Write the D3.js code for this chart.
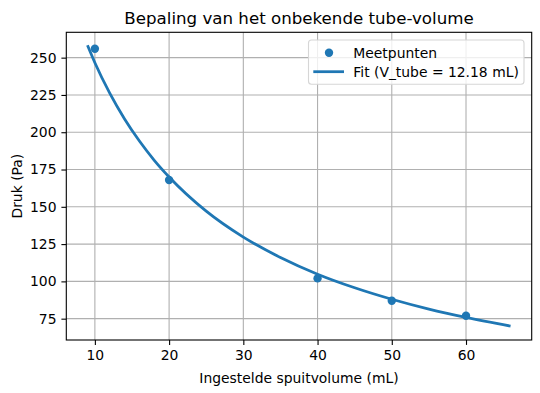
<!DOCTYPE html>
<html><head><meta charset="utf-8">
<script src="https://cdn.jsdelivr.net/npm/d3@7"></script>
<style>body{margin:0;background:#fff}svg{display:block;font-family:"DejaVu Sans",sans-serif}</style>
</head><body>
<svg id="c" width="540" height="393"></svg>
<script>
const title = "Bepaling van het onbekende tube-volume";
const xLabel = "Ingestelde spuitvolume (mL)";
const yLabel = "Druk (Pa)";
const seriesNames = ["Meetpunten", "Fit (V_tube = 12.18 mL)"];
// measured points
const pointX = [10, 20, 40, 50, 60];
const pointY = [256, 168, 102, 87, 77];
// fit curve
const fitX = [9, 10, 12, 14, 16, 18, 20, 25, 30, 35, 40, 45, 50, 55, 60, 66];
const fitY = [258.3, 246.6, 226.2, 208.9, 194.1, 181.2, 170.0, 147.1, 129.7, 116.0, 104.8, 95.7, 88.0, 81.4, 75.8, 70.0];
const xTicks = [10, 20, 30, 40, 50, 60];
const yTicks = [75, 100, 125, 150, 175, 200, 225, 250];

const color = "#1f77b4";
const fs = 13.9;
const L = 66.3, R = 531.7, T = 32.3, B = 340;
const svg = d3.select("#c");
const x = d3.scaleLinear().domain([6.15, 68.85]).range([L, R]);
const y = d3.scaleLinear().domain([60.7, 267.0]).range([B, T]);

// grid
svg.append("g").selectAll("line").data(xTicks).join("line")
  .attr("x1", d => x(d)).attr("x2", d => x(d)).attr("y1", T).attr("y2", B)
  .attr("stroke", "#b0b0b0").attr("stroke-width", 1.1);
svg.append("g").selectAll("line").data(yTicks).join("line")
  .attr("x1", L).attr("x2", R).attr("y1", d => y(d)).attr("y2", d => y(d))
  .attr("stroke", "#b0b0b0").attr("stroke-width", 1.1);

// axes
const xa = svg.append("g").attr("transform", `translate(0,${B})`)
  .call(d3.axisBottom(x).tickValues(xTicks).tickSize(4.9).tickPadding(4.9).tickFormat(d3.format("d")));
const ya = svg.append("g").attr("transform", `translate(${L},0)`)
  .call(d3.axisLeft(y).tickValues(yTicks).tickSize(4.9).tickPadding(4.9).tickFormat(d3.format("d")));
[xa, ya].forEach(a => {
  a.select(".domain").remove();
  a.selectAll("text").attr("font-size", fs).attr("fill", "#000").attr("font-family", "DejaVu Sans");
  a.selectAll("line").attr("stroke", "#000").attr("stroke-width", 1.1);
});

// clip
svg.append("clipPath").attr("id", "clip").append("rect").attr("x", L).attr("y", T).attr("width", R - L).attr("height", B - T);

// scatter
svg.append("g").selectAll("circle").data(pointX.map((v, i) => [v, pointY[i]])).join("circle")
  .attr("cx", d => x(d[0])).attr("cy", d => y(d[1])).attr("r", 4.2).attr("fill", color);

// fit line
const line = d3.line().x(d => x(d[0])).y(d => y(d[1])).curve(d3.curveMonotoneX);
svg.append("path").datum(fitX.map((v, i) => [v, fitY[i]]))
  .attr("d", line).attr("fill", "none").attr("stroke", color).attr("stroke-width", 2.78)
  .attr("clip-path", "url(#clip)");

// frame
svg.append("rect").attr("x", L).attr("y", T).attr("width", R - L).attr("height", B - T)
  .attr("fill", "none").attr("stroke", "#000").attr("stroke-width", 1.1);

// legend
const lg = svg.append("g");
lg.append("rect").attr("x", 308.5).attr("y", 40).attr("width", 215.5).attr("height", 44.3)
  .attr("rx", 3).attr("fill", "#fff").attr("fill-opacity", 0.8).attr("stroke", "#d6d6d6").attr("stroke-width", 1.1);
lg.append("circle").attr("cx", 329).attr("cy", 52.7).attr("r", 4.2).attr("fill", color);
lg.append("line").attr("x1", 313.3).attr("x2", 344).attr("y1", 71.7).attr("y2", 71.7)
  .attr("stroke", color).attr("stroke-width", 2.78);
lg.selectAll("text").data(seriesNames).join("text")
  .attr("x", 353.3).attr("y", (d, i) => 52.7 + i * 19 + 5)
  .attr("font-size", fs).attr("fill", "#000").text(d => d);

// labels
svg.append("text").attr("x", (L + R) / 2).attr("y", 24).attr("text-anchor", "middle")
  .attr("font-size", 16.67).attr("fill", "#000").text(title);
svg.append("text").attr("x", (L + R) / 2).attr("y", 382.5).attr("text-anchor", "middle")
  .attr("font-size", fs).attr("fill", "#000").text(xLabel);
svg.append("text").attr("transform", `translate(22,${(T + B) / 2}) rotate(-90)`).attr("text-anchor", "middle")
  .attr("font-size", fs).attr("fill", "#000").text(yLabel);
</script>
</body></html>
